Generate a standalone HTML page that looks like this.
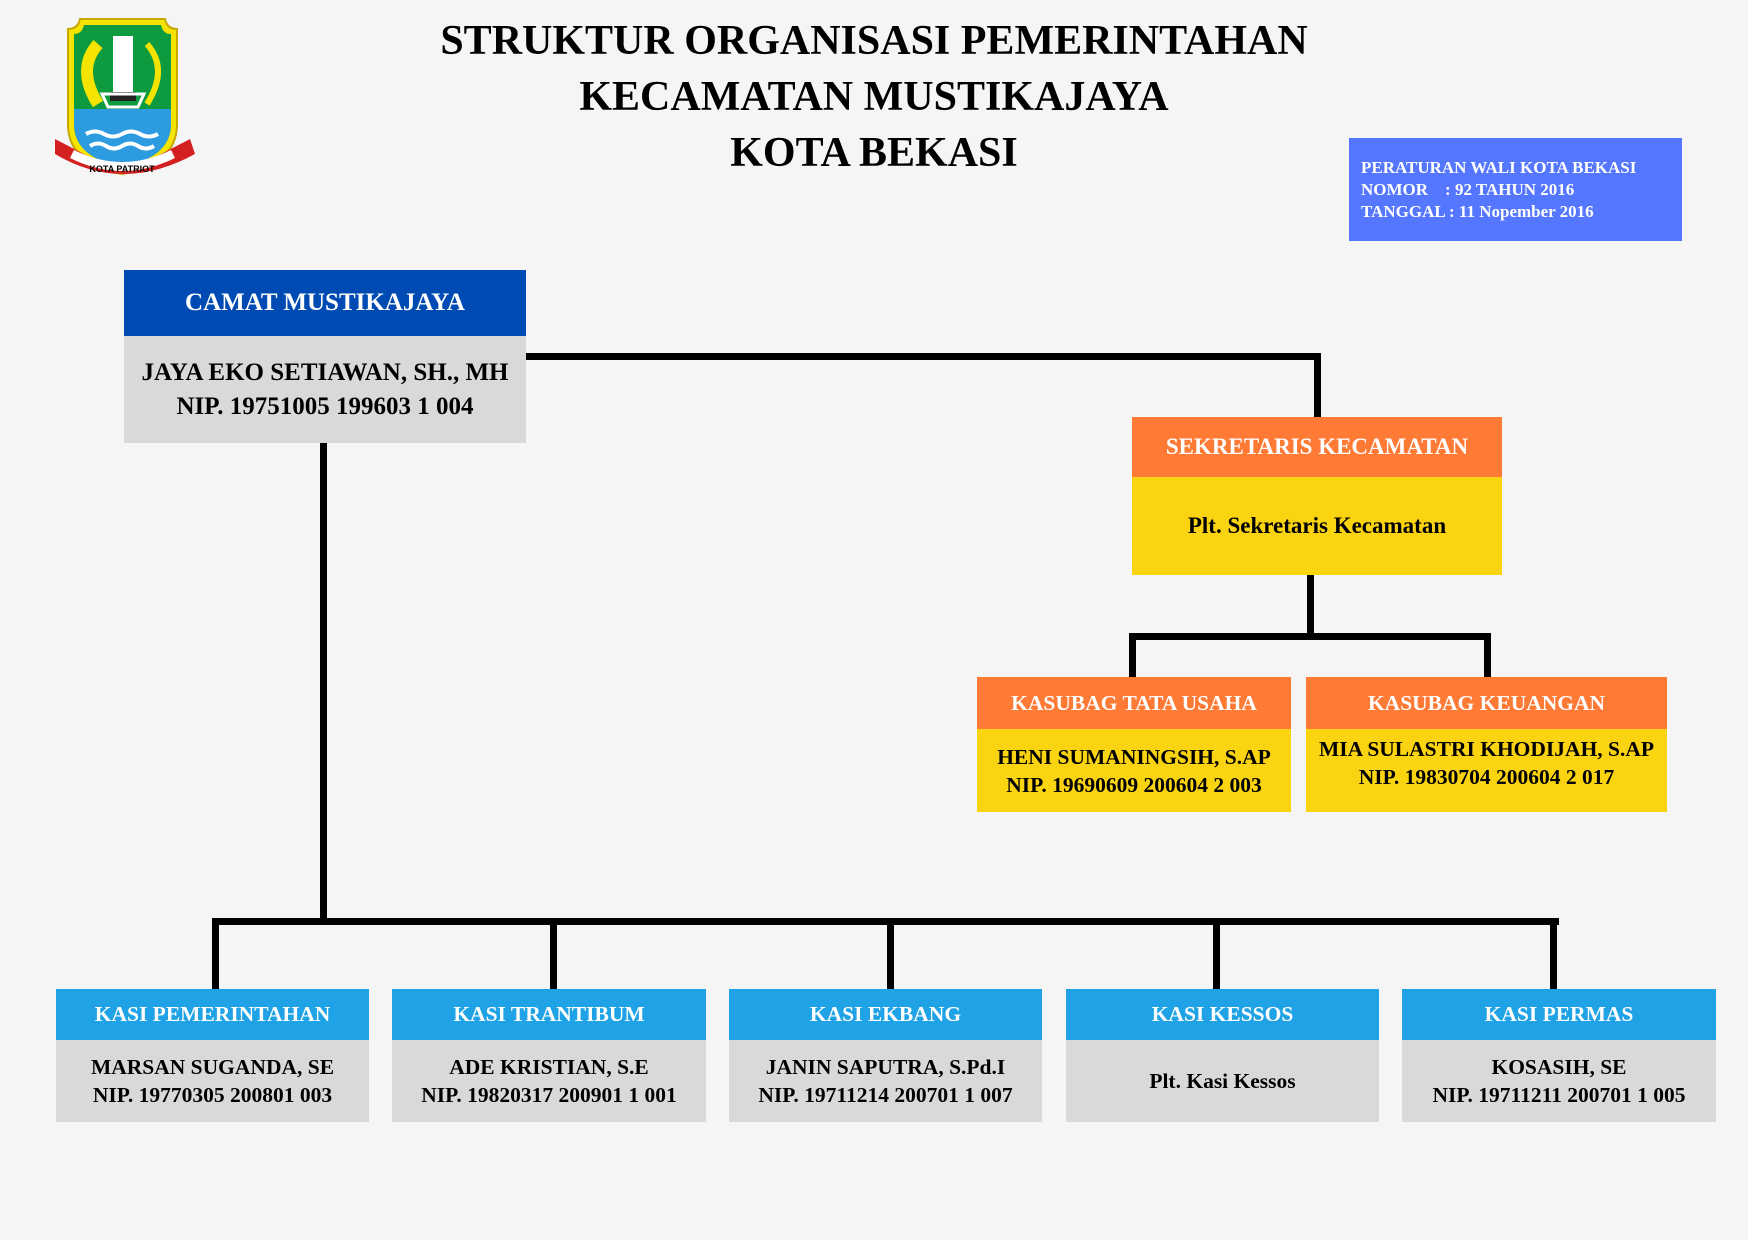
<!DOCTYPE html>
<html><head><meta charset="utf-8"><style>
body{margin:0;width:1748px;height:1240px;background:#f5f5f5;position:relative;overflow:hidden;font-family:"Liberation Serif",serif;font-weight:bold}
.t{position:absolute;left:0;width:1748px;text-align:center;font-size:42px;color:#000}
.b{position:absolute;display:flex;align-items:center;justify-content:center;text-align:center;flex-direction:column;white-space:nowrap}
.l{position:absolute;background:#000}
</style></head><body>
<svg style="position:absolute;left:50px;top:14px" width="150" height="170" viewBox="0 0 150 170">
<path d="M18 15 Q28 15 30 5 L115 5 Q117 15 127 15 L127 110 Q127 150 72 160 Q18 150 18 110 Z" fill="#f5e400" stroke="#c8a800" stroke-width="2"/>
<path d="M24 20 Q32 20 34 11 L111 11 Q113 20 121 20 L121 110 Q121 143 72 153 Q24 143 24 110 Z" fill="#0e9a3e"/>
<path d="M24 95 L121 95 L121 110 Q121 143 72 153 Q24 143 24 110 Z" fill="#2c9be0"/>
<path d="M36 120 q9 -5 18 0 q9 5 18 0 q9 -5 18 0 q9 5 18 0" stroke="#fff" stroke-width="4" fill="none"/>
<path d="M40 132 q8 -5 16 0 q8 5 16 0 q8 -5 16 0 q8 5 16 0" stroke="#fff" stroke-width="4" fill="none"/>
<rect x="63" y="22" width="20" height="60" fill="#fff"/><rect x="60" y="78" width="26" height="9" fill="#222"/>
<path d="M52 80 L94 80 L88 93 L58 93Z" fill="none" stroke="#fff" stroke-width="3"/>
<path d="M48 30 q-22 25 0 60" stroke="#f5e400" stroke-width="12" fill="none"/>
<path d="M97 30 q22 25 0 60" stroke="#f5e400" stroke-width="6" fill="none"/>
<path d="M5 125 L30 138 Q72 162 115 138 L140 125 L145 140 Q72 180 5 140Z" fill="#d42020"/>
<path d="M22 140 Q72 165 123 140" stroke="#fff" stroke-width="9" fill="none"/>
<text x="72" y="158" font-size="9" text-anchor="middle" font-family="Liberation Sans" fill="#000">KOTA PATRIOT</text>
</svg>
<div class="t" style="top:17px">STRUKTUR ORGANISASI PEMERINTAHAN</div>
<div class="t" style="top:73px">KECAMATAN MUSTIKAJAYA</div>
<div class="t" style="top:129px">KOTA BEKASI</div>
<div class="b" style="left:1349px;top:138px;width:333px;height:103px;background:#5577ff;color:#fff;font-size:17px;align-items:flex-start;text-align:left;line-height:22px;padding-left:12px;box-sizing:border-box">
<div>PERATURAN WALI KOTA BEKASI</div><div>NOMOR &nbsp;&nbsp;&nbsp;: 92 TAHUN 2016</div><div>TANGGAL : 11 Nopember 2016</div></div>

<div class="l" style="left:526px;top:353px;width:795px;height:7px"></div>
<div class="l" style="left:1314px;top:353px;width:7px;height:66px"></div>
<div class="l" style="left:320px;top:440px;width:7px;height:484px"></div>
<div class="l" style="left:212px;top:918px;width:1347px;height:7px"></div>
<div class="l" style="left:212px;top:918px;width:7px;height:72px"></div>
<div class="l" style="left:550px;top:918px;width:7px;height:72px"></div>
<div class="l" style="left:887px;top:918px;width:7px;height:72px"></div>
<div class="l" style="left:1213px;top:918px;width:7px;height:72px"></div>
<div class="l" style="left:1550px;top:918px;width:7px;height:72px"></div>
<div class="l" style="left:1307px;top:574px;width:7px;height:64px"></div>
<div class="l" style="left:1129px;top:633px;width:362px;height:7px"></div>
<div class="l" style="left:1129px;top:633px;width:7px;height:46px"></div>
<div class="l" style="left:1484px;top:633px;width:7px;height:46px"></div>

<div class="b" style="left:124px;top:270px;width:402px;height:66px;background:#004bb3;color:#fff;font-size:25px">CAMAT MUSTIKAJAYA</div>
<div class="b" style="left:124px;top:336px;width:402px;height:107px;background:#d9d9d9;font-size:25px;line-height:34px"><div>JAYA EKO SETIAWAN, SH., MH</div><div>NIP. 19751005 199603 1 004</div></div>

<div class="b" style="left:1132px;top:417px;width:370px;height:60px;background:#ff7a35;color:#fff;font-size:23px">SEKRETARIS KECAMATAN</div>
<div class="b" style="left:1132px;top:477px;width:370px;height:98px;background:#fbd411;font-size:23px">Plt. Sekretaris Kecamatan</div>

<div class="b" style="left:977px;top:677px;width:314px;height:52px;background:#ff7a35;color:#fff;font-size:21.5px">KASUBAG TATA USAHA</div>
<div class="b" style="left:977px;top:729px;width:314px;height:83px;background:#fbd411;font-size:21.5px;line-height:28px"><div>HENI SUMANINGSIH, S.AP</div><div>NIP. 19690609 200604 2 003</div></div>
<div class="b" style="left:1306px;top:677px;width:361px;height:52px;background:#ff7a35;color:#fff;font-size:21.5px">KASUBAG KEUANGAN</div>
<div class="b" style="left:1306px;top:729px;width:361px;height:83px;background:#fbd411;font-size:21.5px;line-height:28px;justify-content:flex-start;padding-top:6px;box-sizing:border-box"><div>MIA SULASTRI KHODIJAH, S.AP</div><div>NIP. 19830704 200604 2 017</div></div>

<div class="b" style="left:56px;top:989px;width:313px;height:51px;background:#1fa3e6;color:#fff;font-size:21.5px">KASI PEMERINTAHAN</div>
<div class="b" style="left:56px;top:1040px;width:313px;height:82px;background:#d9d9d9;font-size:21.5px;line-height:28px"><div>MARSAN SUGANDA, SE</div><div>NIP. 19770305 200801 003</div></div>
<div class="b" style="left:392px;top:989px;width:314px;height:51px;background:#1fa3e6;color:#fff;font-size:21.5px">KASI TRANTIBUM</div>
<div class="b" style="left:392px;top:1040px;width:314px;height:82px;background:#d9d9d9;font-size:21.5px;line-height:28px"><div>ADE KRISTIAN, S.E</div><div>NIP. 19820317 200901 1 001</div></div>
<div class="b" style="left:729px;top:989px;width:313px;height:51px;background:#1fa3e6;color:#fff;font-size:21.5px">KASI EKBANG</div>
<div class="b" style="left:729px;top:1040px;width:313px;height:82px;background:#d9d9d9;font-size:21.5px;line-height:28px"><div>JANIN SAPUTRA, S.Pd.I</div><div>NIP. 19711214 200701 1 007</div></div>
<div class="b" style="left:1066px;top:989px;width:313px;height:51px;background:#1fa3e6;color:#fff;font-size:21.5px">KASI KESSOS</div>
<div class="b" style="left:1066px;top:1040px;width:313px;height:82px;background:#d9d9d9;font-size:21.5px">Plt. Kasi Kessos</div>
<div class="b" style="left:1402px;top:989px;width:314px;height:51px;background:#1fa3e6;color:#fff;font-size:21.5px">KASI PERMAS</div>
<div class="b" style="left:1402px;top:1040px;width:314px;height:82px;background:#d9d9d9;font-size:21.5px;line-height:28px"><div>KOSASIH, SE</div><div>NIP. 19711211 200701 1 005</div></div>
</body></html>
